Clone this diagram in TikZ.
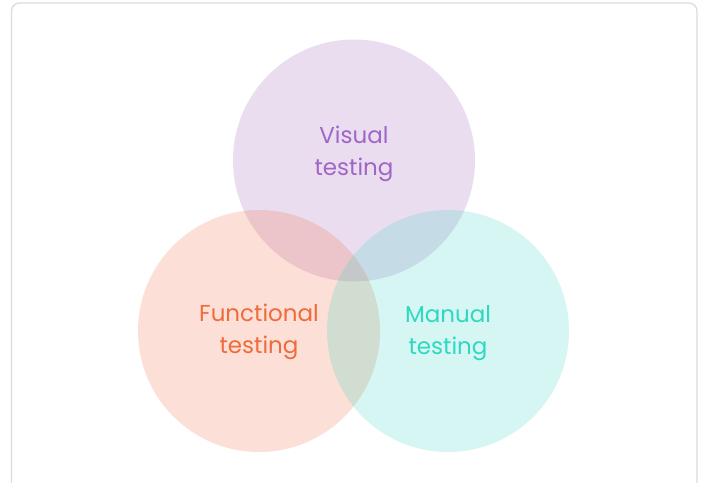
\documentclass[tikz,border=0pt]{standalone}
\usepackage{fontspec}
\setmainfont{Poppins}
\definecolor{vispurple}{HTML}{9B59B6}
\definecolor{funorange}{HTML}{F0683A}
\definecolor{manteal}{HTML}{2DD4BF}
\definecolor{vistext}{HTML}{A066C6}
\definecolor{funtext}{HTML}{F06A3A}
\definecolor{mantext}{HTML}{2ED8C2}
\definecolor{framegray}{HTML}{DADCE0}
\begin{document}
\begin{tikzpicture}[x=1pt,y=-1pt,
  venn/.style={circle, minimum size=242pt, inner sep=0pt, fill opacity=0.2},
  lbl/.style={align=center, font=\fontsize{23}{32}\selectfont, inner sep=0pt}]
\useasboundingbox (0,0) rectangle (701,482);
\fill[white] (0,0) rectangle (701,482);
\begin{scope}
\clip (0,0) rectangle (701,482);
\draw[framegray, line width=1.3pt, rounded corners=8pt] (11.5,3) rectangle (697,520);
\end{scope}
\node[venn, fill=vispurple] (vis) at (354,160.5) {};
\node[venn, fill=funorange] (fun) at (259,331) {};
\node[venn, fill=manteal] (man) at (448,331) {};
\node[lbl, text=vistext] (vislbl) at (354,154) {Visual\\testing};
\node[lbl, text=funtext] (funlbl) at (259,332) {Functional\\testing};
\node[lbl, text=mantext] (manlbl) at (448,333) {Manual\\testing};
\end{tikzpicture}
\end{document}
